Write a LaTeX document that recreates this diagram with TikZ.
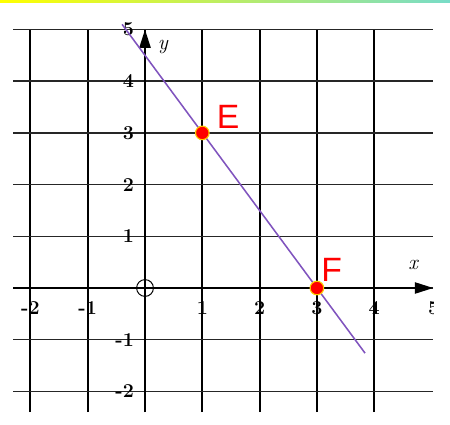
\documentclass[tikz,border=0pt]{standalone}
\usepackage{fontspec}
\usepackage{tikz}
\usetikzlibrary{arrows.meta}
\newfontfamily\ptfont{Liberation Sans}
\definecolor{linepurple}{RGB}{128,84,190}
\definecolor{ptring}{RGB}{255,205,0}
\definecolor{topteal}{RGB}{120,220,200}
\tikzset{
  gridline/.style={line width=1.5pt},
  hgridline/.style={line width=1.1pt, black!85},
  axisarrow/.style={-{Triangle[length=4.6mm, width=2.8mm]}, line width=1.3pt},
  fitline/.style={linepurple, line width=1.1pt},
  ptdot/.style={circle, fill=red, draw=ptring, line width=0.8pt, minimum size=3.4mm, inner sep=0pt},
  ptlabel/.style={text=red, font=\ptfont\fontsize{24}{26}\selectfont},
  ticklabel/.style={font=\fontsize{14}{15}\selectfont\bfseries, inner sep=0pt},
  axislabel/.style={font=\fontsize{15}{16}\selectfont\itshape}
}

\begin{document}
\begin{tikzpicture}[x=1.4325cm, y=1.2925cm]
  \useasboundingbox (-2.531,-2.650) rectangle (5.323,5.571);
  \shade[left color=yellow, right color=topteal] (-2.531,5.53) rectangle (5.323,5.571);

  % grid
  \foreach \gx in {-2,...,4}
    \draw[gridline] (\gx,-2.4) -- (\gx,5);
  \foreach \gy in {-2,...,5}
    \draw[hgridline] (-2.3,\gy) -- (5.03,\gy);

  % axes
  \coordinate (xstart) at (-2.3,0);
  \coordinate (xend) at (5.03,0);
  \coordinate (ystart) at (0,-2.4);
  \coordinate (yend) at (0,5);
  \draw[axisarrow] (xstart) -- (xend);
  \draw[axisarrow] (ystart) -- (yend);
  \node[axislabel] (xlab) at (4.68,0.44) {x};
  \node[axislabel] (ylab) at (0.31,4.66) {y};
  \node[draw, circle, line width=0.7pt, minimum size=4.2mm, inner sep=0pt] (orig) at (0,0) {};

  % tick labels
  \foreach \tx in {-2,-1,1,2,3,4}
    \node[ticklabel] (xt\tx) at (\tx,-0.39) {\tx};
  \foreach \ty in {-2,-1,1,2,3,4,5}
    \node[ticklabel, anchor=east] (yt\ty) at (-0.19,\ty) {\ty};
  \begin{scope}
    \clip (-2.531,-2.65) rectangle (5.03,5.571);
    \node[ticklabel] (xt5) at (5.04,-0.39) {5};
  \end{scope}

  % line through E and F
  \coordinate (lineA) at (-0.4,5.1);
  \coordinate (lineB) at (3.84,-1.26);
  \draw[fitline] (lineA) -- (lineB);
  \node[ptdot] (E) at (1,3) {};
  \node[ptdot] (F) at (3,0) {};
  \node[ptlabel] (Elabel) at (1.45,3.31) {E};
  \node[ptlabel] (Flabel) at (3.26,0.35) {F};
\end{tikzpicture}
\end{document}
